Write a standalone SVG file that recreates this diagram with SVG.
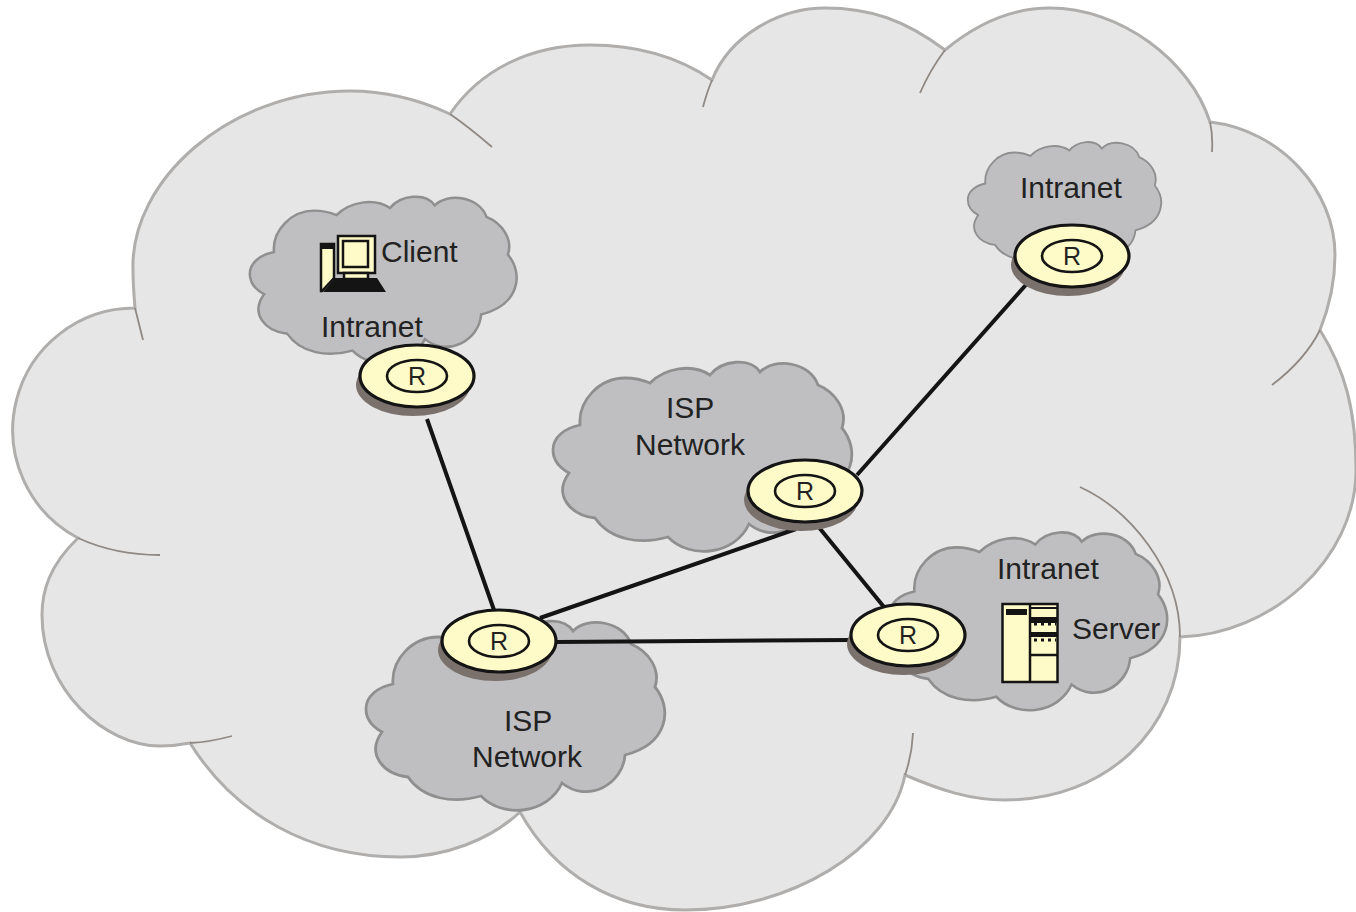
<svg xmlns="http://www.w3.org/2000/svg" xmlns:xlink="http://www.w3.org/1999/xlink" width="1356" height="912" viewBox="0 0 1356 912">
<style>
.big{fill:#e6e6e6;stroke:#b0aeac;stroke-width:3}
.seam{fill:none;stroke:#8f8883;stroke-width:1.8}
.cl{fill:#bfbfc1;stroke:#8f8f8f;stroke-width:2.8;vector-effect:non-scaling-stroke}
.shadow{fill:#7b716c}
.rt{fill:#fffbc8;stroke:#141414;stroke-width:3.2}
.rin{fill:none;stroke:#141414;stroke-width:2.6}
.link{fill:none;stroke:#141414;stroke-width:4}
.t{font-family:"Liberation Sans",Arial,sans-serif;font-size:30px;fill:#222}
.r{font-family:"Liberation Sans",Arial,sans-serif;font-size:25px;fill:#222;text-anchor:middle}
.ic{fill:#fffbc8;stroke:#141414;stroke-width:2.5}
.bk{fill:#141414}
</style>
<defs>
<path id="cloud" d="M580,425 C578,400 600,378 625,378 C635,378 643,380 650,383 C665,368 692,363 710,375 C722,360 750,357 760,372 C775,357 810,362 818,385 C835,392 848,410 842,428 C860,450 855,485 812,496 C810,525 775,545 749,524 C735,555 690,560 668,537 C640,545 610,540 595,518 C570,515 553,495 569,473 C560,468 553,460 553,450 C553,437 565,428 580,425 Z"/>
<g id="router">
<ellipse class="shadow" cx="-4" cy="9" rx="57" ry="31"/>
<ellipse class="rt" rx="57" ry="31"/>
<ellipse class="rin" rx="30" ry="16"/>
<text class="r" y="9">R</text>
</g>
</defs>
<g id="internet">
<path class="big" d="M135,308 A122,122 0 0 0 78,538 C50,565 42,590 42,615 C42,690 105,746 160,746 C170,746 180,745 190,743 C235,815 310,857 400,857 C445,857 490,840 520,812 C555,875 615,910 685,910 C790,910 890,850 905,775 C940,790 970,800 1005,800 C1105,800 1180,730 1180,637 C1270,635 1356,560 1356,470 C1356,410 1345,370 1320,330 C1330,305 1335,280 1335,255 C1335,190 1280,130 1210,122 C1190,60 1120,8 1050,8 C1010,8 975,25 945,50 C905,20 870,8 825,8 C780,8 730,35 712,80 C680,58 640,45 590,45 C530,45 480,70 450,114 C420,100 385,91 350,91 C230,91 130,180 133,270 C133,285 134,295 135,308 Z"/>
<path class="seam" d="M135,308 L143,340 M78,538 Q115,555 160,555 M190,743 Q210,742 232,736 M905,775 Q912,755 913,733 M1180,637 C1180,570 1130,510 1080,487 M1320,330 Q1305,360 1272,385 M1210,122 Q1213,135 1212,152 M945,50 Q930,70 920,93 M712,80 Q706,95 703,107 M450,114 Q470,128 492,147"/>
</g>
<g id="cloud-client"><use xlink:href="#cloud" href="#cloud" class="cl" transform="translate(-244,-122) scale(.893,.88)"/></g>
<g id="cloud-intranet-top"><use xlink:href="#cloud" href="#cloud" class="cl" transform="translate(610,-97) scale(.647,.66)"/></g>
<g id="cloud-isp-1"><use xlink:href="#cloud" href="#cloud" class="cl"/></g>
<g id="cloud-isp-2"><use xlink:href="#cloud" href="#cloud" class="cl" transform="translate(-187,259)"/></g>
<g id="cloud-server"><use xlink:href="#cloud" href="#cloud" class="cl" transform="translate(375,192) scale(.93,.94)"/></g>
<g id="connectors">
<path class="link" d="M427,419 L494,610 M540,618 L796,529 M555,642 L852,640 M817,525 L884,607 M857,475 L1032,278"/>
</g>
<g id="router-client"><use xlink:href="#router" href="#router" x="417" y="376"/></g>
<g id="router-intranet"><use xlink:href="#router" href="#router" x="1072" y="256"/></g>
<g id="router-isp-1"><use xlink:href="#router" href="#router" x="805" y="491"/></g>
<g id="router-isp-2"><use xlink:href="#router" href="#router" x="499" y="641"/></g>
<g id="router-server"><use xlink:href="#router" href="#router" x="908" y="635"/></g>
<g id="client-pc">
<path class="ic" d="M321,244 H334 V278 L322,291 H321 Z"/>
<rect class="bk" x="320" y="243" width="15" height="6"/>
<rect class="ic" x="338" y="236" width="37" height="37"/>
<rect class="ic" x="343" y="241" width="25" height="26"/>
<rect class="ic" x="344" y="273" width="24" height="6"/>
<path class="bk" d="M335,278 H377 L386,292 H323 Z"/>
<text class="t" x="381" y="262">Client</text>
<text class="t" x="321" y="337">Intranet</text>
</g>
<g id="label-intranet-top"><text class="t" x="1020" y="198">Intranet</text></g>
<g id="label-isp-1"><text class="t" x="666" y="418">ISP</text><text class="t" x="635" y="455">Network</text></g>
<g id="label-isp-2"><text class="t" x="504" y="731">ISP</text><text class="t" x="472" y="767">Network</text></g>
<g id="server">
<rect class="ic" x="1002.500" y="604" width="55" height="78"/>
<path fill="none" stroke="#141414" stroke-width="2.500" d="M1030,604 V682 M1030,655 H1057"/>
<rect class="bk" x="1006" y="609" width="21" height="6"/>
<rect class="bk" x="1031" y="607" width="26" height="2"/>
<rect class="bk" x="1031" y="617" width="26" height="6"/>
<rect class="bk" x="1031" y="632" width="26" height="5"/>
<path stroke="#141414" stroke-width="3" stroke-dasharray="3 4" d="M1034,624 H1056 M1034,640 H1056" fill="none"/>
<text class="t" x="997" y="579">Intranet</text>
<text class="t" x="1072" y="639">Server</text>
</g>
</svg>
